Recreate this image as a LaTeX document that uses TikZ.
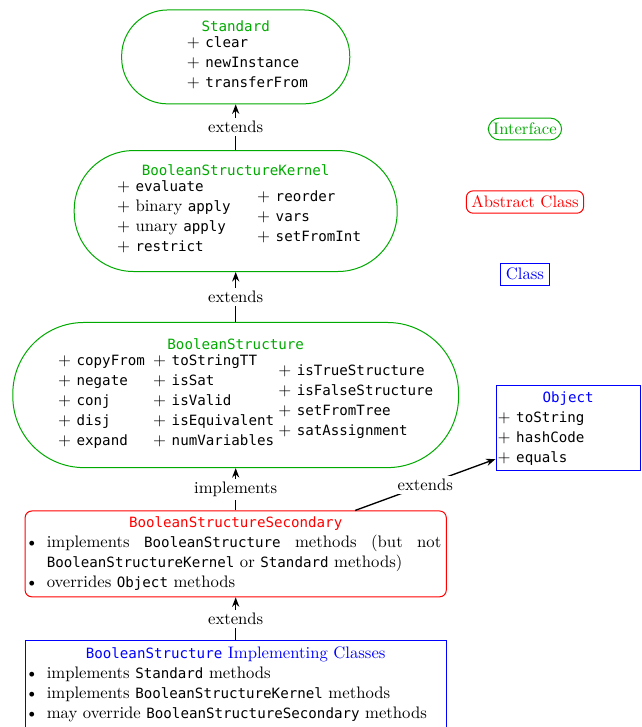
\documentclass[tikz,border=0pt]{standalone}
\usepackage{fontspec}
\setmonofont[Scale=0.85,HyphenChar=None]{DejaVu Sans Mono}
\usepackage{enumitem}
\usetikzlibrary{arrows.meta}
\setlist[itemize]{nosep,leftmargin=10pt,labelsep=5pt}
\definecolor{ifgreen}{RGB}{0,170,0}
\newcommand{\mem}[1]{$+$ \texttt{#1}}

\begin{document}
\begin{tikzpicture}[>={Stealth[length=2mm]},
  iface/.style={draw=ifgreen,semithick,align=center,inner sep=2pt},
  absclass/.style={draw=red,semithick,rounded corners=4pt,inner xsep=3pt,inner ysep=2pt},
  conc/.style={draw=blue,semithick,inner sep=2pt},
  lbl/.style={fill=white,inner sep=2pt}]
\useasboundingbox (0,0) rectangle (13.52,-15.33);

% interfaces
\node[iface,minimum width=4.81cm,minimum height=1.98cm,rounded corners=0.97cm] (std) at (4.97,-1.20) {\textcolor{ifgreen}{\texttt{Standard}}\\
  \begin{tabular}{@{\hspace{14pt}}l@{}}\mem{clear}\\ \mem{newInstance}\\ \mem{transferFrom}\end{tabular}};
\node[iface,minimum width=6.81cm,minimum height=2.55cm,rounded corners=1.25cm] (kernel) at (4.97,-4.45) {\textcolor{ifgreen}{\texttt{BooleanStructureKernel}}\\
  \begin{tabular}[c]{@{\hspace{4pt}}l@{}}\mem{evaluate}\\ $+$ binary \texttt{apply}\\ $+$ unary \texttt{apply}\\ \mem{restrict}\end{tabular}\hspace{1.6em}%
  \begin{tabular}[c]{@{}l@{}}\mem{reorder}\\ \mem{vars}\\ \mem{setFromInt}\end{tabular}};
\node[iface,minimum width=9.40cm,minimum height=3.06cm,rounded corners=1.5cm] (bs) at (4.97,-8.33) {\textcolor{ifgreen}{\texttt{BooleanStructure}}\\
  \begin{tabular}[c]{@{\hspace{12pt}}l@{}}\mem{copyFrom}\\ \mem{negate}\\ \mem{conj}\\ \mem{disj}\\ \mem{expand}\end{tabular}\hspace{5pt}%
  \begin{tabular}[c]{@{}l@{}}\mem{toStringTT}\\ \mem{isSat}\\ \mem{isValid}\\ \mem{isEquivalent}\\ \mem{numVariables}\end{tabular}\hspace{2.5pt}%
  \begin{tabular}[c]{@{}l@{}}\mem{isTrueStructure}\\ \mem{isFalseStructure}\\ \mem{setFromTree}\\ \mem{satAssignment}\end{tabular}};

% classes
\node[absclass,text width=8.67cm,align=justify,minimum height=1.81cm] (sec) at (4.97,-11.68) {{\centering\textcolor{red}{\texttt{BooleanStructureSecondary}}\par}
  \begin{itemize}
  \item implements \texttt{BooleanStructure} methods (but not \texttt{BooleanStructureKernel} or \texttt{Standard} methods)
  \item overrides \texttt{Object} methods
  \end{itemize}};
\node[conc,inner xsep=3pt,inner ysep=3.8pt,text width=8.67cm,align=justify,anchor=north] (impl) at (4.97,-13.50) {{\centering\textcolor{blue}{\texttt{BooleanStructure} Implementing Classes}\par}
  \begin{itemize}
  \item implements \texttt{Standard} methods
  \item implements \texttt{BooleanStructureKernel} methods
  \item may override \texttt{BooleanStructureSecondary} methods
  \end{itemize}\vspace{10pt}};
\node[conc,inner xsep=1pt,text width=2.97cm,minimum height=1.79cm,align=left] (obj) at (11.98,-9.03) {\makebox[\linewidth]{\textcolor{blue}{\texttt{Object}}}\\
  \mem{toString}\\ \mem{hashCode}\\ \mem{equals}};

% legend
\node[iface,inner sep=3pt,rounded corners=7pt,text=ifgreen] (legiface) at (11.07,-2.72) {Interface};
\node[absclass,inner sep=3pt,text=red] (legabs) at (11.07,-4.26) {Abstract Class};
\node[conc,inner sep=3pt,text=blue] (legclass) at (11.07,-5.78) {Class};

% relations
\draw[->,thick] (kernel) -- node[lbl]{extends} (std);
\draw[->,thick] (bs) -- node[lbl]{extends} (kernel);
\draw[->,thick] (sec) -- node[lbl]{implements} (bs);
\draw[->,thick] (impl) -- node[lbl]{extends} (sec);
\draw[->,thick] (sec.20) -- node[lbl]{extends} (obj.203);
\end{tikzpicture}
\end{document}
